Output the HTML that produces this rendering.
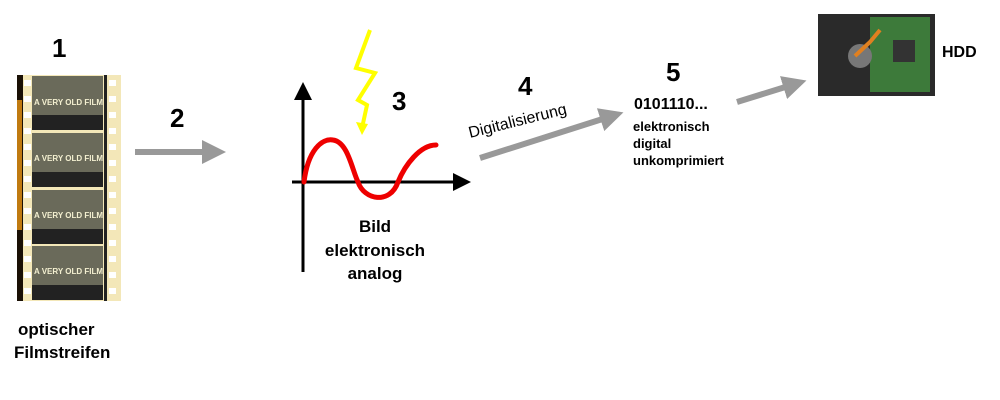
<!DOCTYPE html><html><head><style>body{margin:0;background:#fff}svg{display:block}text{font-family:"Liberation Sans",sans-serif;font-weight:bold}</style></head><body>
<svg width="1000" height="400" viewBox="0 0 1000 400">
<defs><marker id="a" markerWidth="4" markerHeight="4" refX="2" refY="2" orient="auto" markerUnits="strokeWidth"><path d="M0,0L4,2L0,4Z" fill="#999"/></marker>
<marker id="b" markerWidth="6" markerHeight="6" refX="4" refY="3" orient="auto" markerUnits="strokeWidth"><path d="M0,0L6,3L0,6Z" fill="#000"/></marker></defs>
<text x="52" y="57" font-size="26">1</text>
<rect x="17" y="75" width="104" height="226" fill="#f3e7b8"/>
<rect x="17" y="75" width="6" height="226" fill="#1a1005"/>
<rect x="17" y="100" width="5" height="130" fill="#c07a10"/>
<g fill="#fff">
<rect x="24" y="80" width="7" height="6"/><rect x="24" y="96" width="7" height="6"/><rect x="24" y="112" width="7" height="6"/><rect x="24" y="128" width="7" height="6"/><rect x="24" y="144" width="7" height="6"/><rect x="24" y="160" width="7" height="6"/><rect x="24" y="176" width="7" height="6"/><rect x="24" y="192" width="7" height="6"/><rect x="24" y="208" width="7" height="6"/><rect x="24" y="224" width="7" height="6"/><rect x="24" y="240" width="7" height="6"/><rect x="24" y="256" width="7" height="6"/><rect x="24" y="272" width="7" height="6"/><rect x="24" y="288" width="7" height="6"/>
<rect x="109" y="80" width="7" height="6"/><rect x="109" y="96" width="7" height="6"/><rect x="109" y="112" width="7" height="6"/><rect x="109" y="128" width="7" height="6"/><rect x="109" y="144" width="7" height="6"/><rect x="109" y="160" width="7" height="6"/><rect x="109" y="176" width="7" height="6"/><rect x="109" y="192" width="7" height="6"/><rect x="109" y="208" width="7" height="6"/><rect x="109" y="224" width="7" height="6"/><rect x="109" y="240" width="7" height="6"/><rect x="109" y="256" width="7" height="6"/><rect x="109" y="272" width="7" height="6"/><rect x="109" y="288" width="7" height="6"/></g>
<rect x="104" y="75" width="3" height="226" fill="#222"/>
<g fill="#6a6a5a"><rect x="32" y="76" width="71" height="54"/><rect x="32" y="133" width="71" height="54"/><rect x="32" y="190" width="71" height="54"/><rect x="32" y="246" width="71" height="54"/></g>
<g fill="#222"><rect x="32" y="115" width="71" height="15"/><rect x="32" y="172" width="71" height="15"/><rect x="32" y="229" width="71" height="15"/><rect x="32" y="285" width="71" height="15"/></g>
<g fill="#f3efd0" font-size="8"><text x="34" y="105">A VERY OLD FILM</text><text x="34" y="161">A VERY OLD FILM</text><text x="34" y="218">A VERY OLD FILM</text><text x="34" y="274">A VERY OLD FILM</text></g>
<text x="18" y="335" font-size="17">optischer</text><text x="14" y="358" font-size="17">Filmstreifen</text>
<text x="170" y="127" font-size="26">2</text>
<line x1="135" y1="152" x2="214" y2="152" stroke="#999" stroke-width="6" marker-end="url(#a)"/>
<polyline points="370,30 356,68 375,73 358,100 367,105 362,128" fill="none" stroke="#ff0" stroke-width="4"/>
<path d="M356,122L362,135L368,124Z" fill="#ff0"/>
<text x="392" y="110" font-size="26">3</text>
<line x1="303" y1="272" x2="303" y2="88" stroke="#000" stroke-width="3" marker-end="url(#b)"/>
<line x1="292" y1="182" x2="465" y2="182" stroke="#000" stroke-width="3" marker-end="url(#b)"/>
<path d="M304,182C308,150 322,138 333,140C348,142 352,170 358,182C364,200 390,205 398,182C405,165 420,145 436,145" fill="none" stroke="#e00" stroke-width="5" stroke-linecap="round"/>
<text x="375" y="232" font-size="17" text-anchor="middle">Bild</text>
<text x="375" y="256" font-size="17" text-anchor="middle">elektronisch</text>
<text x="375" y="279" font-size="17" text-anchor="middle">analog</text>
<text x="518" y="95" font-size="26">4</text>
<text x="470" y="138" font-size="16" style="font-weight:normal" transform="rotate(-14 470 138)">Digitalisierung</text>
<line x1="480" y1="158" x2="612" y2="116" stroke="#999" stroke-width="6" marker-end="url(#a)"/>
<text x="666" y="81" font-size="26">5</text>
<text x="634" y="109" font-size="16">0101110...</text>
<text x="633" y="131" font-size="13">elektronisch</text>
<text x="633" y="148" font-size="13">digital</text>
<text x="633" y="165" font-size="13">unkomprimiert</text>
<line x1="737" y1="102" x2="795" y2="84" stroke="#999" stroke-width="6" marker-end="url(#a)"/>
<rect x="818" y="14" width="117" height="82" fill="#2a2a2a"/>
<rect x="870" y="17" width="60" height="75" fill="#3d7a3a"/>
<rect x="893" y="40" width="22" height="22" fill="#333"/>
<circle cx="860" cy="56" r="12" fill="#777"/>
<path d="M855,56L870,42L880,30" stroke="#e08020" stroke-width="4" fill="none"/>
<text x="942" y="57" font-size="16">HDD</text>
</svg></body></html>
